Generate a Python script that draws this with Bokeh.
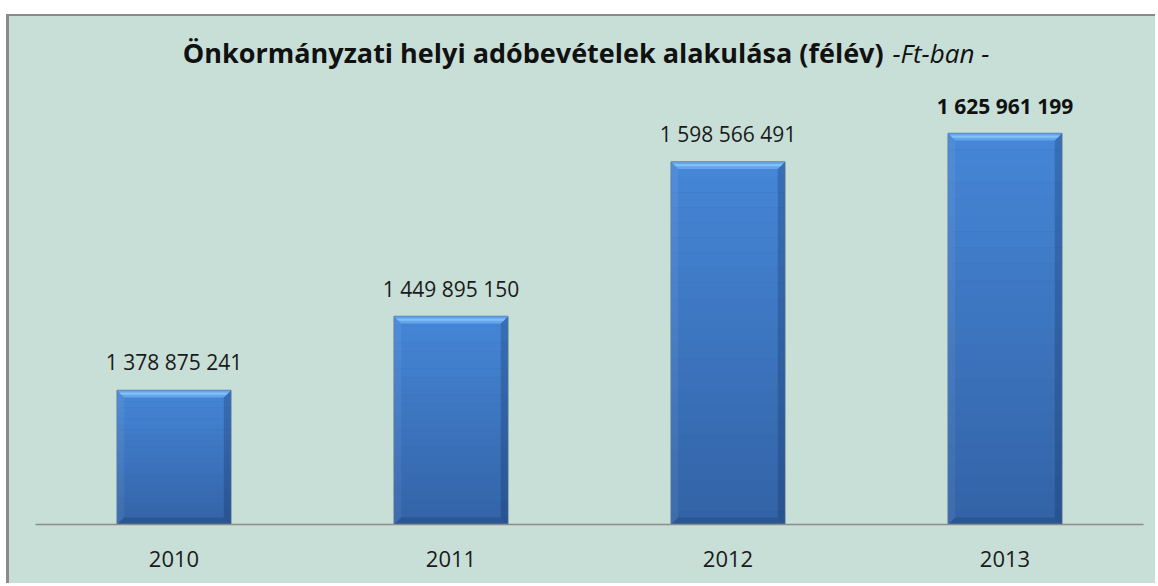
import numpy as np
from bokeh.plotting import figure
from bokeh.models import Range1d, FactorRange, Label, Spacer, ColumnDataSource
from bokeh.layouts import column, row
from bokeh.core.properties import value
from bokeh.embed import file_html
from bokeh.resources import INLINE

# ---- data ----
years = ["2010", "2011", "2012", "2013"]
revenues = [1378875241, 1449895150, 1598566491, 1625961199]
title_main = "Önkormányzati helyi adóbevételek alakulása (félév)"
title_unit = "-Ft-ban -"

# ---- layout / style constants ----
FONT = "Open Sans"
BG = "#C8DFD7"
Y0, Y1 = 1.25e9, 1.65e9          # value span over AXIS_H pixels
AXIS_H = 416                      # pixels between Y0 and Y1
FRAME_W, FRAME_H = 1108, 508
BAR_W = 0.41
Y_END = Y0 + (Y1 - Y0) * FRAME_H / AXIS_H

p = figure(x_range=FactorRange(*years), y_range=Range1d(Y0, Y_END),
           width=1149, height=569, output_backend="svg", toolbar_location=None,
           min_border_left=26, min_border_right=15, min_border_top=0, min_border_bottom=61)
p.styles = {"border-left": "3px solid #8A8A8A", "border-top": "2px solid #8A8A8A",
            "background-color": BG}
p.background_fill_color = None
p.border_fill_color = None
p.outline_line_color = None
p.xgrid.visible = False
p.ygrid.visible = False
p.yaxis.visible = False

xa = p.xaxis[0]
xa.axis_line_color = "#8C8C8C"
xa.axis_line_width = 1.5
xa.major_tick_line_color = None
xa.minor_tick_line_color = None
xa.major_label_text_font = FONT
xa.major_label_text_font_size = "22px"
xa.major_label_text_color = "#1a1a1a"
xa.major_label_standoff = 20

# ---- bars with bevel ----
vals = np.array(revenues, dtype=float)
xc = np.arange(len(years)) + 0.5
xl = xc - BAR_W / 2
xr = xc + BAR_W / 2
px_x = 1.0 / (FRAME_W / len(years))
px_y = (Y1 - Y0) / AXIS_H
bx = 7 * px_x
by = 7 * px_y

p.vbar(x=years, top=vals, bottom=Y0, width=BAR_W, fill_color="#3A70B8",
       line_color="#627C96", line_width=1.5)

top_c = np.array([0x46, 0x87, 0xD8])
bot_c = np.array([0x33, 0x63, 0xA6])
N = 24
bl, br, bb, bt, bc = [], [], [], [], []
for i in range(len(years)):
    for k in range(N):
        f0 = k / N
        f1 = (k + 1) / N
        lo = Y0 + (vals[i] - Y0) * f0
        hi = Y0 + (vals[i] - Y0) * f1
        t = 1 - (f0 + f1) / 2
        c = (top_c * (1 - t) + bot_c * t).astype(int)
        bl.append(xl[i]); br.append(xr[i]); bb.append(lo); bt.append(hi)
        bc.append("#%02x%02x%02x" % tuple(c))
p.quad(left=bl, right=br, bottom=bb, top=bt, fill_color=bc, line_color=None)

top_x, top_y, rgt_x, rgt_y, lft_x, lft_y, bot_x, bot_y, hl_x, hl_y = ([] for _ in range(10))
for i in range(len(years)):
    v = vals[i]
    top_x.append([xl[i], xr[i], xr[i] - bx, xl[i] + bx])
    top_y.append([v, v, v - by, v - by])
    rgt_x.append([xr[i], xr[i], xr[i] - bx, xr[i] - bx])
    rgt_y.append([v, Y0, Y0 + by, v - by])
    lft_x.append([xl[i], xl[i], xl[i] + bx, xl[i] + bx])
    lft_y.append([v, Y0, Y0 + by, v - by])
    bot_x.append([xl[i], xr[i], xr[i] - bx, xl[i] + bx])
    bot_y.append([Y0, Y0, Y0 + by, Y0 + by])
    hl_x.append([xl[i] + 0.3 * bx, xr[i] - 0.3 * bx, xr[i] - 0.6 * bx, xl[i] + 0.6 * bx])
    hl_y.append([v - 0.3 * by, v - 0.3 * by, v - 0.6 * by, v - 0.6 * by])
p.patches(rgt_x, rgt_y, fill_color="#0a1a40", fill_alpha=0.22, line_color=None)
p.patches(lft_x, lft_y, fill_color="#ffffff", fill_alpha=0.06, line_color=None)
p.patches(bot_x, bot_y, fill_color="#0a1a40", fill_alpha=0.18, line_color=None)
p.patches(top_x, top_y, fill_color="#6AAAF0", fill_alpha=0.85, line_color=None)
p.patches(hl_x, hl_y, fill_color="#8CC8FA", fill_alpha=0.8, line_color=None)

# ---- value labels ----
lab = [f"{int(v):,}".replace(",", " ") for v in revenues]
src_a = ColumnDataSource(dict(x=years[:-1], y=revenues[:-1], t=lab[:-1]))
src_b = ColumnDataSource(dict(x=years[-1:], y=revenues[-1:], t=lab[-1:]))
p.text(x="x", y="y", text="t", source=src_a, text_align="center", text_baseline="alphabetic",
       y_offset=-28, text_font=value(FONT), text_font_size="21px", text_color="#1a1a1a")
p.text(x="x", y="y", text="t", source=src_b, text_align="center", text_baseline="alphabetic",
       y_offset=-28, text_font=value(FONT), text_font_size="21px", text_font_style="bold",
       text_color="#111111")

# ---- title (bold + italic parts) ----
title_y = Y0 + (524 - 52) * px_y
join_x = (887 - 35) * px_x
p.add_layout(Label(x=join_x - 0.014, y=title_y, text=title_main, text_align="right",
                   text_baseline="alphabetic", text_font=FONT, text_font_size="27px",
                   text_font_style="bold", text_color="#111111"))
p.add_layout(Label(x=join_x + 0.018, y=title_y, text=title_unit, text_align="left",
                   text_baseline="alphabetic", text_font=FONT, text_font_size="26px",
                   text_font_style="italic", text_color="#111111"))

layout = column(Spacer(height=14, width=10), row(Spacer(width=6, height=10), p, spacing=0), spacing=0)
open("out.html", "w").write(file_html(layout, INLINE))
